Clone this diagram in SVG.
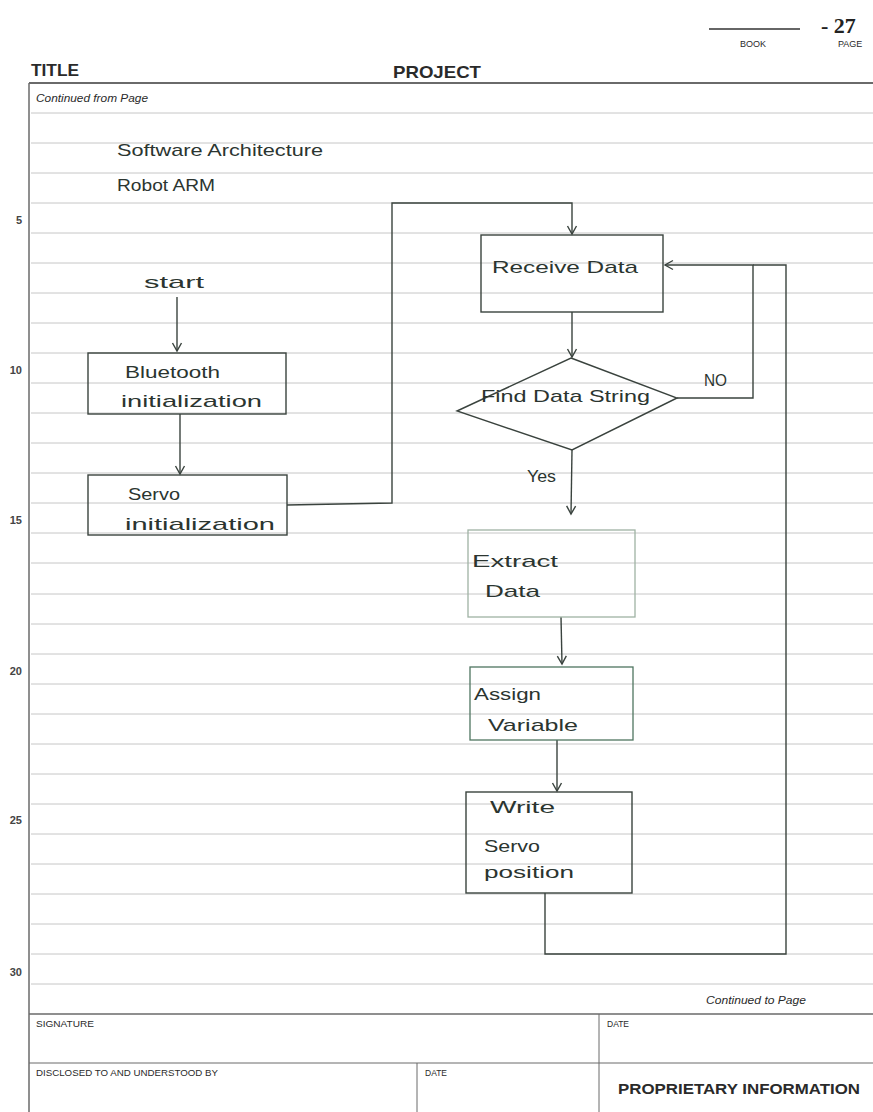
<svg xmlns="http://www.w3.org/2000/svg" width="873" height="1112" viewBox="0 0 873 1112">
  <defs>
    <style>
      .rule { stroke: #c6c6c6; stroke-width: 1; fill: none; }
      .frame { stroke: #6a6a6a; fill: none; }
      .form { font-family: "Liberation Sans", Arial, sans-serif; fill: #2a2a2a; }
      .num { font-family: "Liberation Sans", Arial, sans-serif; font-size: 11px; fill: #444; text-anchor: end; font-weight: bold; }
      .hand { font-family: "Liberation Sans", Arial, sans-serif; font-size: 17px; fill: #2b3530; }
      .box { fill: none; stroke: #3a433e; stroke-width: 1.4; }
      .conn { fill: none; stroke: #3a433e; stroke-width: 1.4; }
    </style>
    <marker id="arr" viewBox="-10 -6 12 12" refX="0" refY="0" markerWidth="12" markerHeight="12" markerUnits="userSpaceOnUse" orient="auto">
      <path d="M-8,-4.5 L0,0 L-8,4.5" fill="none" stroke="#3a433e" stroke-width="1.4"/>
    </marker>
  </defs>

  <rect x="0" y="0" width="873" height="1112" fill="#ffffff"/>

  <!-- paper: header -->
  <g id="header">
    <line x1="709" y1="29" x2="800" y2="29" stroke="#333" stroke-width="1.5"/>
    <text x="821" y="33" font-family="Liberation Serif, serif" font-size="22" font-weight="bold" fill="#222">- 27</text>
    <text x="740" y="47" class="form" font-size="9">BOOK</text>
    <text x="838" y="47" class="form" font-size="9">PAGE</text>
    <text x="31" y="76" class="form" font-size="16" font-weight="bold" textLength="48" lengthAdjust="spacingAndGlyphs">TITLE</text>
    <text x="393" y="78" class="form" font-size="17" font-weight="bold" textLength="88" lengthAdjust="spacingAndGlyphs">PROJECT</text>
    <text x="36" y="102" class="form" font-size="10" font-style="italic" textLength="112" lengthAdjust="spacingAndGlyphs">Continued from Page</text>
  </g>

  <!-- ruled lines -->
  <path class="rule" d="M31 113H873 M31 143H873 M31 173H873 M31 203H873 M31 233H873 M31 263H873 M31 293H873 M31 323H873 M31 353H873 M31 383H873 M31 413H873 M31 443H873 M31 473H873 M31 503H873 M31 533H873 M31 563H873 M31 594H873 M31 624H873 M31 654H873 M31 684H873 M31 714H873 M31 744H873 M31 774H873 M31 804H873 M31 834H873 M31 864H873 M31 894H873 M31 924H873 M31 954H873 M31 984H873"/>

  <!-- frame -->
  <line class="frame" x1="29" y1="83" x2="873" y2="83" stroke-width="2"/>
  <line class="frame" x1="29" y1="83" x2="29" y2="1112" stroke-width="1.5"/>
  <line class="frame" x1="29" y1="1014" x2="873" y2="1014" stroke-width="1.3"/>
  <line class="frame" x1="29" y1="1063" x2="873" y2="1063" stroke-width="1"/>
  <line class="frame" x1="599" y1="1014" x2="599" y2="1112" stroke-width="1"/>
  <line class="frame" x1="417" y1="1063" x2="417" y2="1112" stroke-width="1"/>

  <!-- row numbers -->
  <g id="row-numbers">
    <text class="num" x="22" y="224">5</text>
    <text class="num" x="22" y="374">10</text>
    <text class="num" x="22" y="524">15</text>
    <text class="num" x="22" y="675">20</text>
    <text class="num" x="22" y="824">25</text>
    <text class="num" x="22" y="976">30</text>
  </g>

  <!-- footer -->
  <g id="footer">
    <text x="706" y="1004" class="form" font-size="10" font-style="italic" textLength="100" lengthAdjust="spacingAndGlyphs">Continued to Page</text>
    <text x="36" y="1027" class="form" font-size="8.5" textLength="58" lengthAdjust="spacingAndGlyphs">SIGNATURE</text>
    <text x="607" y="1027" class="form" font-size="8.5">DATE</text>
    <text x="36" y="1076" class="form" font-size="8.5" textLength="182" lengthAdjust="spacingAndGlyphs">DISCLOSED TO AND UNDERSTOOD BY</text>
    <text x="425" y="1076" class="form" font-size="8.5">DATE</text>
    <text x="618" y="1094" class="form" font-size="15" font-weight="bold" textLength="242" lengthAdjust="spacingAndGlyphs">PROPRIETARY INFORMATION</text>
  </g>

  <!-- headings -->
  <g id="heading">
    <text class="hand" x="117" y="156" font-size="19" textLength="206" lengthAdjust="spacingAndGlyphs">Software Architecture</text>
    <text class="hand" x="117" y="191" font-size="19" textLength="98" lengthAdjust="spacingAndGlyphs">Robot ARM</text>
  </g>

  <!-- connectors -->
  <g id="connectors">
    <line class="conn" x1="177" y1="297" x2="177" y2="351" marker-end="url(#arr)"/>
    <line class="conn" x1="180" y1="414" x2="180" y2="474" marker-end="url(#arr)"/>
    <polyline class="conn" points="287,505 392,503 392,203 572,203 572,234" marker-end="url(#arr)"/>
    <line class="conn" x1="572" y1="312" x2="572" y2="357" marker-end="url(#arr)"/>
    <polyline class="conn" points="677,398 753,398 753,265 665,265" marker-end="url(#arr)"/>
    <polyline class="conn" points="545,893 545,954 786,954 786,265 753,265"/>
    <line class="conn" x1="572" y1="450" x2="571" y2="514" marker-end="url(#arr)"/>
    <line class="conn" x1="561" y1="617" x2="562" y2="664" stroke="#557a62" marker-end="url(#arr)"/>
    <line class="conn" x1="557" y1="740" x2="557" y2="791" marker-end="url(#arr)"/>
    <text class="hand" x="704" y="386" font-size="14" textLength="23" lengthAdjust="spacingAndGlyphs">NO</text>
    <text class="hand" x="527" y="482" font-size="14" textLength="29" lengthAdjust="spacingAndGlyphs">Yes</text>
  </g>

  <!-- nodes -->
  <g id="start">
    <text class="hand" x="144" y="288" font-size="18" textLength="60" lengthAdjust="spacingAndGlyphs">start</text>
  </g>

  <g id="bluetooth-init">
    <rect class="box" x="88" y="353" width="198" height="61"/>
    <text class="hand" x="125" y="378" textLength="95" lengthAdjust="spacingAndGlyphs">Bluetooth</text>
    <text class="hand" x="121" y="407" textLength="141" lengthAdjust="spacingAndGlyphs">initialization</text>
  </g>

  <g id="servo-init">
    <rect class="box" x="88" y="475" width="199" height="60"/>
    <text class="hand" x="128" y="500" textLength="52" lengthAdjust="spacingAndGlyphs">Servo</text>
    <text class="hand" x="125" y="530" textLength="150" lengthAdjust="spacingAndGlyphs">initialization</text>
  </g>

  <g id="receive-data">
    <rect class="box" x="481" y="235" width="182" height="77"/>
    <text class="hand" x="492" y="273" textLength="146" lengthAdjust="spacingAndGlyphs">Receive Data</text>
  </g>

  <g id="find-data-string">
    <polygon class="box" points="571,358 677,398 572,450 457,411"/>
    <text class="hand" x="481" y="402" textLength="169" lengthAdjust="spacingAndGlyphs">Find Data String</text>
  </g>

  <g id="extract-data">
    <rect x="468" y="530" width="167" height="87" fill="none" stroke="#9fb2a4" stroke-width="1.3"/>
    <text class="hand" x="472" y="567" fill="#9aad9f" textLength="86" lengthAdjust="spacingAndGlyphs">Extract</text>
    <text class="hand" x="485" y="597" fill="#9aad9f" textLength="55" lengthAdjust="spacingAndGlyphs">Data</text>
  </g>

  <g id="assign-variable">
    <rect x="470" y="667" width="163" height="73" fill="none" stroke="#4f7560" stroke-width="1.3"/>
    <text class="hand" x="474" y="700" fill="#3f6650" textLength="67" lengthAdjust="spacingAndGlyphs">Assign</text>
    <text class="hand" x="488" y="731" fill="#3f6650" textLength="90" lengthAdjust="spacingAndGlyphs">Variable</text>
  </g>

  <g id="write-servo">
    <rect class="box" x="466" y="792" width="166" height="101"/>
    <text class="hand" x="490" y="813" textLength="65" lengthAdjust="spacingAndGlyphs">Write</text>
    <text class="hand" x="484" y="852" textLength="56" lengthAdjust="spacingAndGlyphs">Servo</text>
    <text class="hand" x="484" y="878" textLength="90" lengthAdjust="spacingAndGlyphs">position</text>
  </g>
</svg>
